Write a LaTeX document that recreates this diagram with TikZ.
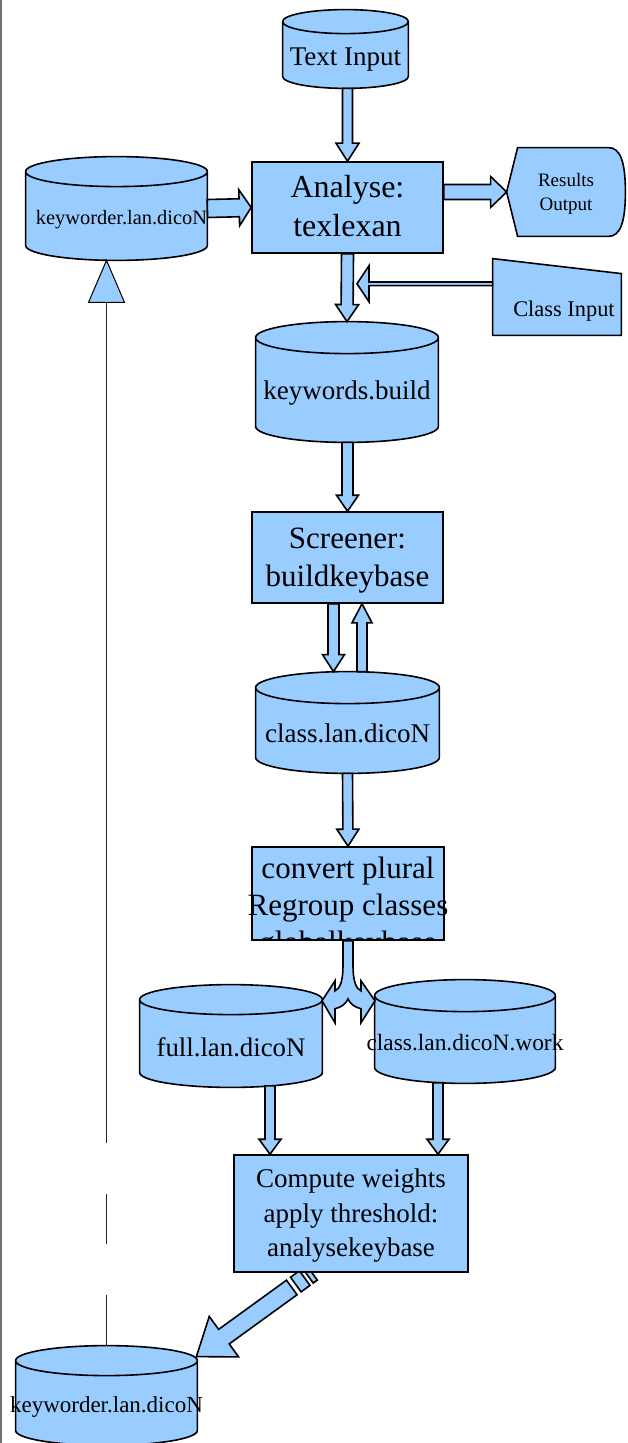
\documentclass[tikz,border=0pt]{standalone}
\usepackage{fontspec}
\setmainfont{Liberation Serif}
\usetikzlibrary{calc,backgrounds}
\definecolor{hellblau}{RGB}{153,204,255}
% Text im Zylinder etwas tiefer setzen
\newcommand{\zt}[1]{\raisebox{-5.5pt}[\height][\depth]{\makebox[0pt]{#1}}}
% mehrzeiliger Text im Kasten
\newcommand{\kt}[1]{\raisebox{-1pt}[\height][\depth]{\begin{tabular}{@{}c@{}}#1\end{tabular}}}
% Zylinder hinter Knoten #1, Ellipsenradius #2
\newcommand{\zyl}[2]{%
  \begin{pgfonlayer}{background}
  \draw[form] let \p1=(#1.north west), \p2=(#1.south east), \n1={(\x2-\x1)/2} in
    (\x1,\y1-#2) -- (\x1,\y2+#2) arc[start angle=180, end angle=360, x radius={\n1*1pt}, y radius=#2]
    -- (\x2,\y1-#2) arc[start angle=0, end angle=180, x radius={\n1*1pt}, y radius=#2] -- cycle
    (\x1,\y1-#2) arc[start angle=180, end angle=360, x radius={\n1*1pt}, y radius=#2];
  \end{pgfonlayer}}
% Blockpfeil: Start, Spitze, halbe Schaftbreite, halbe Kopfbreite, Kopflaenge
\newcommand{\blockpfeil}[5]{%
  \coordinate (bpS) at (#1);
  \coordinate (bpT) at (#2);
  \coordinate (bpH) at ($(bpT)!#5!(bpS)$);
  \draw[form] ($(bpS)!#3!90:(bpT)$) -- ($(bpH)!#3!90:(bpT)$) -- ($(bpH)!#4!90:(bpT)$) -- (bpT)
    -- ($(bpH)!#4!-90:(bpT)$) -- ($(bpH)!#3!-90:(bpT)$) -- ($(bpS)!#3!-90:(bpT)$) -- cycle;}
% Schaftstueck zwischen Abstand #3 und #4
\newcommand{\schaftstueck}[5]{%
  \coordinate (stA) at ($(#1)!#3!(#2)$);
  \coordinate (stB) at ($(#1)!#4!(#2)$);
  \draw[form] ($(stA)!#5!90:(#2)$) -- ($(stB)!#5!90:(#2)$) -- ($(stB)!#5!-90:(#2)$) -- ($(stA)!#5!-90:(#2)$) -- cycle;}

\begin{document}
\begin{tikzpicture}[x=0.5pt, y=-0.5pt,
    form/.style={draw, fill=hellblau, line width=0.8pt},
    kasten/.style={form, inner sep=0pt},
    zylinder/.style={inner sep=0pt},
    linie/.style={draw=black!85, line width=0.5pt}]
  \useasboundingbox (0,0) rectangle (627,1443);
  % Rand links
  \draw[black!55, line width=1.2pt] (1,0) -- (1,1443);
  % Knoten
  \node[zylinder, minimum width=62.5pt, minimum height=39pt, font=\fontsize{13.5}{16}\selectfont] (ti) at (345.5,49) {\zt{Text Input}};
  \node[zylinder, minimum width=90.5pt, minimum height=51.5pt, font=\fontsize{10.2}{12}\selectfont] (kwo) at (116.5,208.5) {\zt{\hspace{5pt}keyworder.lan.dicoN}};
  \node[kasten, minimum width=95.5pt, minimum height=45.5pt, font=\fontsize{16}{19.5}\selectfont] (an) at (347.5,207.5) {\kt{Analyse:\\texlexan}};
  \node[zylinder, minimum width=59pt, minimum height=44pt, font=\fontsize{9.5}{12}\selectfont] (res) at (566,192) {\kt{Results\\Output}};
  \node[zylinder, minimum width=64pt, minimum height=38pt, font=\fontsize{11.2}{13}\selectfont] (ci) at (557,297)
    {\raisebox{-7pt}[\height][\depth]{\makebox[0pt]{\hspace{7pt}Class Input}}};
  \node[zylinder, minimum width=91pt, minimum height=60pt, font=\fontsize{13.5}{16}\selectfont] (kb) at (347,382) {\zt{keywords.build}};
  \node[kasten, minimum width=95.5pt, minimum height=45.5pt, font=\fontsize{15.5}{19}\selectfont] (scr) at (347.5,557.5) {\kt{Screener:\\buildkeybase}};
  \node[zylinder, minimum width=91.5pt, minimum height=50.5pt, font=\fontsize{13.5}{16}\selectfont] (cl) at (347.5,722.5) {\zt{class.lan.dicoN}};
  \node[kasten, minimum width=96pt, minimum height=46.5pt] (conv) at (348,893.5) {};
  \node[zylinder, minimum width=91pt, minimum height=51pt, font=\fontsize{13.4}{16}\selectfont] (full) at (231,1036) {\zt{full.lan.dicoN}};
  \node[zylinder, minimum width=90pt, minimum height=51.5pt, font=\fontsize{11.7}{14}\selectfont] (work) at (465,1031.5) {\zt{class.lan.dicoN.work}};
  \node[kasten, minimum width=117pt, minimum height=58.5pt, font=\fontsize{13.5}{17.25}\selectfont] (comp) at (351,1213.5) {\kt{Compute weights\\apply threshold:\\analysekeybase}};
  \node[zylinder, minimum width=90.5pt, minimum height=49.5pt, font=\fontsize{11.5}{14}\selectfont] (kwu) at (106.5,1395.5) {\zt{keyworder.lan.dicoN}};
  % Text im Kasten abgeschnitten
  \begin{scope}
    \clip ($(conv.north west)+(-10,0)$) rectangle ($(conv.south east)+(10,0)$);
    \node[anchor=north, align=center, inner sep=0pt, font=\fontsize{15.5}{18.5}\selectfont] (convtext) at ($(conv.north)+(0,10)$)
      {convert plural\\Regroup classes\\globalkeybase};
  \end{scope}
  % Zylinder und Sonderformen
  \zyl{ti}{6pt}
  \zyl{kwo}{7.5pt}
  \zyl{kb}{8pt}
  \zyl{cl}{8pt}
  \zyl{full}{7.5pt}
  \zyl{work}{8pt}
  \zyl{kwu}{7.5pt}
  \begin{pgfonlayer}{background}
    \draw[form] ($(res.north west)+(11,0)$) -- ($(res.north east)+(-17,0)$)
      .. controls ($(res.north east)+(-5,0)$) and ($(res.east)+(0,-30)$) .. (res.east)
      .. controls ($(res.east)+(0,30)$) and ($(res.south east)+(-5,0)$) .. ($(res.south east)+(-17,0)$)
      -- ($(res.south west)+(11,0)$) -- (res.west) -- cycle;
    \draw[form] (ci.south west) -- (ci.north west) -- ($(ci.north east)+(0,15)$) -- (ci.south east) -- cycle;
  \end{pgfonlayer}
  % Pfeile
  \blockpfeil{an.north |- ti.south}{an.north}{2.5pt}{5.75pt}{9pt}
  \blockpfeil{kwo.east}{an.west}{4.5pt}{9pt}{6pt}
  \blockpfeil{an.east |- res.west}{res.west}{3.75pt}{7.75pt}{8pt}
  \blockpfeil{an.south}{kb.north}{3pt}{5.75pt}{8.5pt}
  \coordinate (kpfeil) at ($(an.south)+(9.5,30)$);
  \blockpfeil{ci.west |- kpfeil}{kpfeil}{0.9pt}{9pt}{6pt}
  \blockpfeil{scr.north |- kb.south}{scr.north}{2.75pt}{5.5pt}{8pt}
  \blockpfeil{$(scr.south)+(-14,0)$}{$(cl.north)+(-14,0)$}{2.75pt}{5.5pt}{8.5pt}
  \blockpfeil{$(cl.north)+(14.5,0)$}{$(scr.south)+(14.5,0)$}{2.5pt}{5pt}{9.5pt}
  \blockpfeil{cl.south}{conv.north}{2.5pt}{5.5pt}{8.5pt}
  % Verzweigung
  \begin{scope}[shift={(conv.south)}]
    \draw[form] (-5,0) -- (-5,25) .. controls (-5,40) and (-8,48) .. (-13,50) -- (-13,40) -- (-26,60) -- (-13,82)
      -- (-13,68) .. controls (-6,66) and (-2,63) .. (0,58) .. controls (2,63) and (6,66) .. (13,68)
      -- (13,82) -- (27,60) -- (13,40) -- (13,50) .. controls (8,48) and (5,40) .. (5,25) -- (5,0) -- cycle;
  \end{scope}
  \coordinate (fa) at ($(full.south)+(39,-1.5)$);
  \blockpfeil{fa}{fa |- comp.north}{2.5pt}{5.5pt}{7.5pt}
  \coordinate (wa) at ($(work.south)+(-27,-0.7)$);
  \blockpfeil{wa}{wa |- comp.north}{2.5pt}{5.5pt}{7.5pt}
  % schraeger Pfeil
  \coordinate (dS) at ($(comp.south)+(-39,0)$);
  \coordinate (dT) at ($(kwu.north east)+(-1,11)$);
  \coordinate (dM) at ($(dS)!12.5pt!(dT)$);
  \begin{pgfonlayer}{background}
    \schaftstueck{dS}{dT}{0pt}{2.5pt}{4.5pt}
    \schaftstueck{dS}{dT}{4.5pt}{10pt}{4.5pt}
    \blockpfeil{dM}{dT}{4.5pt}{12.5pt}{17pt}
  \end{pgfonlayer}
  % Rueckfuehrung
  \draw[linie, dash pattern=on 25.5pt off 25.5pt on 25pt off 25.5pt on 430pt off 10pt] (kwu.north) -- ($(kwu.north |- kwo.south)+(0,42)$);
  \draw[form, line width=0.5pt] (kwu.north |- kwo.south) -- ++(-18,42) -- ++(36,0) -- cycle;
\end{tikzpicture}
\end{document}
